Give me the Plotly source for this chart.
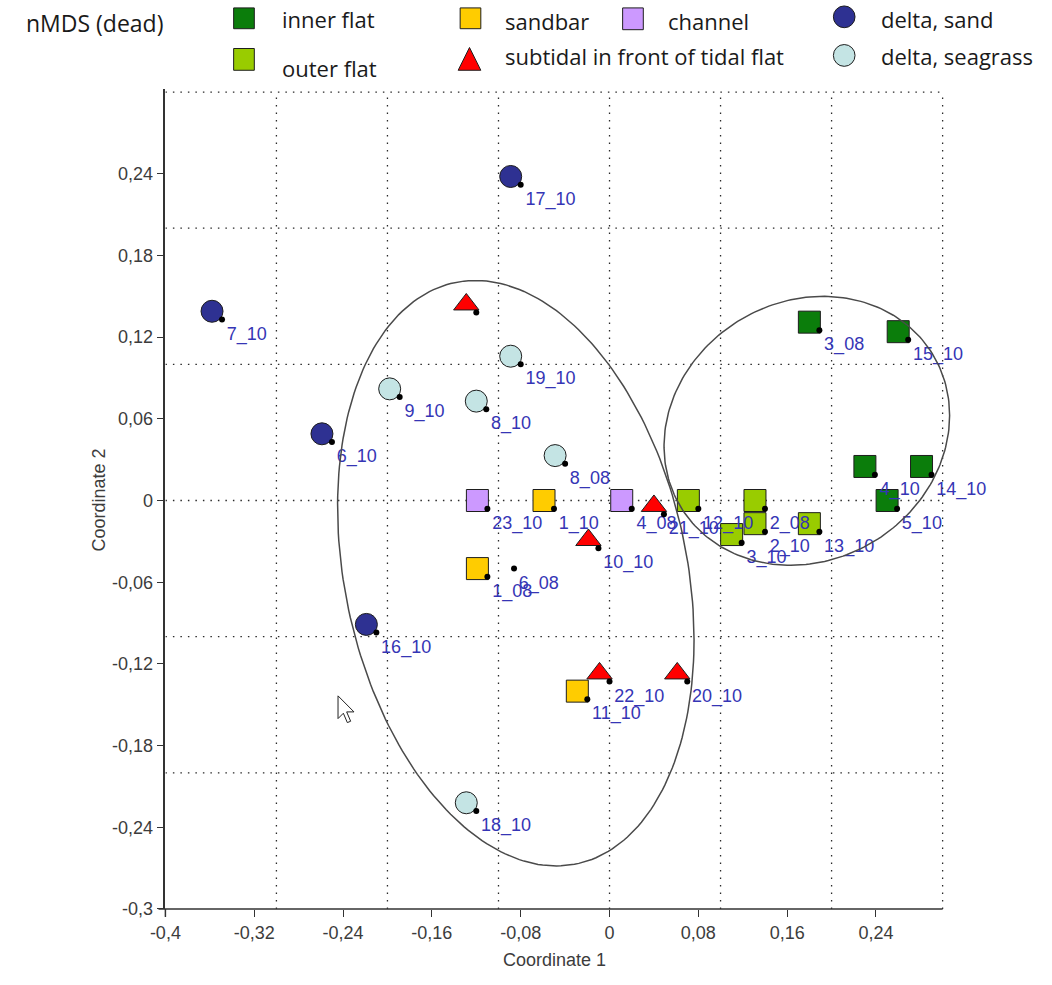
import numpy as np
import plotly.graph_objects as go

# ---- sample scores on the first two nMDS coordinates, by habitat ----
inner_labels = ["3_08", "15_10", "4_10", "14_10", "5_10"]
inner_x = [0.180, 0.260, 0.230, 0.281, 0.250]
inner_y = [0.131, 0.124, 0.025, 0.025, 0.000]

outer_labels = ["12_10", "2_08", "2_10", "3_10", "13_10"]
outer_x = [0.071, 0.131, 0.131, 0.110, 0.180]
outer_y = [0.000, 0.000, -0.017, -0.025, -0.017]

sandbar_labels = ["1_10", "1_08", "11_10"]
sandbar_x = [-0.059, -0.119, -0.029]
sandbar_y = [0.000, -0.050, -0.140]

channel_labels = ["23_10", "4_08"]
channel_x = [-0.119, 0.011]
channel_y = [0.000, 0.000]

subtidal_labels = ["", "10_10", "21_10", "22_10", "20_10"]
subtidal_x = [-0.129, -0.019, 0.040, -0.009, 0.061]
subtidal_y = [0.144, -0.029, -0.004, -0.127, -0.127]

dsand_labels = ["17_10", "7_10", "6_10", "16_10"]
dsand_x = [-0.089, -0.358, -0.259, -0.219]
dsand_y = [0.238, 0.139, 0.049, -0.091]

dgrass_labels = ["9_10", "8_10", "19_10", "8_08", "18_10"]
dgrass_x = [-0.198, -0.120, -0.089, -0.049, -0.129]
dgrass_y = [0.082, 0.073, 0.106, 0.033, -0.222]

other_labels = ["6_08"]
other_x = [-0.095]
other_y = [-0.044]

# confidence ellipses: centre and covariance (coordinate units)
ell_left_center = [-0.0844, -0.0534]
ell_left_cov = [[0.02577, -0.00782], [-0.00782, 0.04623]]
ell_right_center = [0.1777, 0.0512]
ell_right_cov = [[0.01654, 0.00145], [0.00145, 0.00975]]

# axis ticks
x_ticks = [-0.4, -0.32, -0.24, -0.16, -0.08, 0, 0.08, 0.16, 0.24]
x_ticktext = ["-0,4", "-0,32", "-0,24", "-0,16", "-0,08", "0", "0,08", "0,16", "0,24"]
y_ticks = [-0.3, -0.24, -0.18, -0.12, -0.06, 0, 0.06, 0.12, 0.18, 0.24]
y_ticktext = ["-0,3", "-0,24", "-0,18", "-0,12", "-0,06", "0", "0,06", "0,12", "0,18", "0,24"]
grid_x = [-0.3, -0.2, -0.1, 0.0, 0.1, 0.2, 0.3]
grid_y = [-0.2, -0.1, 0.0, 0.1, 0.2, 0.3]

# ---- styles ----
W, H = 1052, 985
LABEL_BLUE = "#3535b5"
EDGE = "#1e1e1e"
groups = [
    ("inner flat", inner_x, inner_y, inner_labels, "square", "#0b7d0b", 22),
    ("outer flat", outer_x, outer_y, outer_labels, "square", "#99cc00", 22),
    ("sandbar", sandbar_x, sandbar_y, sandbar_labels, "square", "#ffcc00", 22),
    ("channel", channel_x, channel_y, channel_labels, "square", "#cc99ff", 22),
    ("subtidal in front of tidal flat", subtidal_x, subtidal_y, subtidal_labels,
     "triangle-up", "#ff0000", 22),
    ("delta, sand", dsand_x, dsand_y, dsand_labels, "circle", "#2e3192", 22),
    ("delta, seagrass", dgrass_x, dgrass_y, dgrass_labels, "circle", "#c4e4e4", 22),
]

X_RANGE = [-0.4, 0.31]
Y_RANGE = [-0.3, 0.302]
# plot area in pixels
PX_LEFT, PX_RIGHT = 151.7, 952.2
PX_BOTTOM = 918.3
PX_TOP = PX_BOTTOM - (Y_RANGE[1] - Y_RANGE[0]) * 1375.5


def fx(px):
    return px / W


def fy(py):
    return 1 - py / H


fig = go.Figure()

label_font = dict(family="Liberation Sans, Arial, sans-serif", size=18, color=LABEL_BLUE)

for name, xs, ys, labs, sym, col, size in groups:
    fig.add_trace(go.Scatter(
        x=xs, y=ys, text=labs, name=name, mode="markers+text",
        textposition="bottom right", textfont=label_font,
        marker=dict(symbol=sym, size=size, color=col, line=dict(color=EDGE, width=1)),
        showlegend=False, hoverinfo="skip", cliponaxis=False,
    ))

fig.add_trace(go.Scatter(
    x=other_x, y=other_y, text=other_labels, mode="markers+text",
    textposition="bottom right", textfont=label_font,
    marker=dict(size=22, color="rgba(0,0,0,0)", line=dict(width=0)),
    showlegend=False, hoverinfo="skip",
))

# small black reference dots beside each sample symbol
all_x = inner_x + outer_x + sandbar_x + channel_x + subtidal_x + dsand_x + dgrass_x + other_x
all_y = inner_y + outer_y + sandbar_y + channel_y + subtidal_y + dsand_y + dgrass_y + other_y
dot_dx, dot_dy = 0.009, -0.006
fig.add_trace(go.Scatter(
    x=[v + dot_dx for v in all_x], y=[v + dot_dy for v in all_y], mode="markers",
    marker=dict(size=6, color="black"), showlegend=False, hoverinfo="skip",
))

# ellipses
t = np.linspace(0, 2 * np.pi, 240)
for c, cov in [(ell_left_center, ell_left_cov), (ell_right_center, ell_right_cov)]:
    L = np.linalg.cholesky(np.array(cov))
    pts = L @ np.vstack([np.cos(t), np.sin(t)])
    fig.add_trace(go.Scatter(
        x=c[0] + pts[0], y=c[1] + pts[1], mode="lines",
        line=dict(color="#4a4a4a", width=1.5), showlegend=False, hoverinfo="skip",
    ))

shapes = []
GRID = dict(color="#2a2a2a", width=1.3, dash="1.5px,6px")
for gx in grid_x:
    shapes.append(dict(type="line", xref="x", yref="y", x0=gx, x1=gx,
                       y0=-0.3, y1=0.3, line=GRID, layer="below"))
for gy in grid_y:
    shapes.append(dict(type="line", xref="x", yref="y", x0=-0.4, x1=0.3,
                       y0=gy, y1=gy, line=GRID, layer="below"))
# bottom axis line
shapes.append(dict(type="line", xref="paper", yref="paper",
                   x0=fx(PX_LEFT - 7), x1=fx(PX_LEFT + 0.7 * 1127.5),
                   y0=fy(PX_BOTTOM), y1=fy(PX_BOTTOM),
                   line=dict(color="#333333", width=1.5)))
# left axis line continues a little below the corner
shapes.append(dict(type="line", xref="paper", yref="paper",
                   x0=fx(PX_LEFT), x1=fx(PX_LEFT),
                   y0=fy(PX_BOTTOM), y1=fy(PX_BOTTOM + 8),
                   line=dict(color="#333333", width=1.5)))

# legend symbols
LEG_LINE = dict(color=EDGE, width=1)
def rect(x0, y0, x1, y1, col):
    return dict(type="rect", xref="paper", yref="paper", x0=fx(x0), x1=fx(x1),
                y0=fy(y1), y1=fy(y0), fillcolor=col, line=LEG_LINE)

shapes += [
    rect(221, 8, 242, 29, "#0b7d0b"),
    rect(221, 49, 242, 71, "#99cc00"),
    rect(451, 8, 472, 29, "#ffcc00"),
    rect(616, 8, 637, 30, "#cc99ff"),
    dict(type="circle", xref="paper", yref="paper", x0=fx(830), x1=fx(852),
         y0=fy(28), y1=fy(6), fillcolor="#2e3192", line=LEG_LINE),
    dict(type="circle", xref="paper", yref="paper", x0=fx(830), x1=fx(852),
         y0=fy(67), y1=fy(45), fillcolor="#c4e4e4", line=LEG_LINE),
    dict(type="path", xref="paper", yref="paper",
         path=f"M {fx(449)},{fy(71)} L {fx(472)},{fy(71)} L {fx(460.5)},{fy(48)} Z",
         fillcolor="#ff0000", line=LEG_LINE),
]

# mouse pointer
cx, cy, s = 327, 703, 1.35
arrow = [(0, 0), (0, 17), (4, 13), (7, 20), (9.5, 19), (6.5, 12), (12, 12)]
path = "M " + " L ".join(f"{fx(cx + s * a)},{fy(cy + s * b)}" for a, b in arrow) + " Z"
shapes.append(dict(type="path", xref="paper", yref="paper", path=path,
                   fillcolor="white", line=dict(color="#222222", width=1)))

LEG_FONT = dict(family="Open Sans, sans-serif", size=22, color="#1a1a1a")
annotations = [
    dict(text="nMDS (dead)", x=fx(8), y=fy(23),
         font=dict(family="Open Sans, sans-serif", size=23, color="#1a1a1a")),
    dict(text="inner flat", x=fx(268), y=fy(19), font=LEG_FONT),
    dict(text="outer flat", x=fx(268), y=fy(69), font=LEG_FONT),
    dict(text="sandbar", x=fx(495), y=fy(21), font=LEG_FONT),
    dict(text="subtidal in front of tidal flat", x=fx(495), y=fy(57), font=LEG_FONT),
    dict(text="channel", x=fx(660), y=fy(21), font=LEG_FONT),
    dict(text="delta, sand", x=fx(876), y=fy(19), font=LEG_FONT),
    dict(text="delta, seagrass", x=fx(876), y=fy(57), font=LEG_FONT),
]
for a in annotations:
    a.update(xref="paper", yref="paper", xanchor="left", yanchor="middle", showarrow=False)

AX_FONT = dict(family="Liberation Sans, Arial, sans-serif", size=18, color="#3c3c3c")
annotations += [
    dict(text="Coordinate 1", x=fx((PX_LEFT + 941) / 2), y=fy(970), xref="paper", yref="paper",
         xanchor="center", yanchor="middle", showarrow=False, font=AX_FONT),
    dict(text="Coordinate 2", x=fx(84), y=fy(505), xref="paper", yref="paper",
         xanchor="center", yanchor="middle", showarrow=False, textangle=-90, font=AX_FONT),
]

TICK_FONT = dict(family="Liberation Sans, Arial, sans-serif", size=18, color="#3c3c3c")
fig.update_layout(
    width=W, height=H,
    margin=dict(l=0, r=0, t=0, b=0),
    paper_bgcolor="white", plot_bgcolor="white",
    shapes=shapes, annotations=annotations,
    xaxis=dict(domain=[fx(PX_LEFT), fx(PX_RIGHT)], range=X_RANGE,
               showgrid=False, zeroline=False, showline=False,
               tickvals=x_ticks, ticktext=x_ticktext, ticks="outside",
               ticklen=7, tickcolor="#333333", tickwidth=1.2, tickfont=TICK_FONT),
    yaxis=dict(domain=[fy(PX_BOTTOM), fy(PX_TOP)], range=Y_RANGE,
               showgrid=False, zeroline=False, showline=True,
               linecolor="#333333", linewidth=1.5,
               tickvals=y_ticks, ticktext=y_ticktext, ticks="outside",
               ticklen=7, tickcolor="#333333", tickwidth=1.2, tickfont=TICK_FONT),
)

fig.write_html("out.html")
